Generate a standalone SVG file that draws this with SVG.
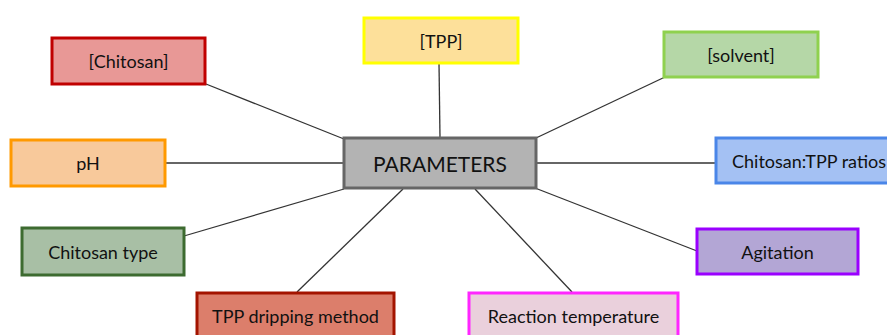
<svg xmlns="http://www.w3.org/2000/svg" width="887" height="335" viewBox="0 0 887 335">
<style>
.n rect{stroke-width:3}
.n text{font-family:Lato,"Open Sans",sans-serif;font-size:18px;fill:#111;text-anchor:middle;dominant-baseline:central}
#connectors line{stroke:#333;stroke-width:1.3}
</style>
<rect width="887" height="335" fill="#fff"/>
<g id="connectors">
<line x1="206" y1="84" x2="344" y2="139"/>
<line x1="165" y1="163" x2="344" y2="163"/>
<line x1="439" y1="63" x2="440" y2="138"/>
<line x1="665" y1="77" x2="536" y2="138"/>
<line x1="536" y1="163" x2="716" y2="163"/>
<line x1="184" y1="236" x2="344" y2="189"/>
<line x1="297" y1="292" x2="403" y2="189"/>
<line x1="572" y1="292" x2="475" y2="189"/>
<line x1="697" y1="251" x2="535" y2="188"/>
</g>
<g id="chitosan" class="n"><rect x="52" y="38" width="153" height="46" fill="#e89896" stroke="#c00000"/><text x="128.5" y="61">[Chitosan]</text></g>
<g id="ph" class="n"><rect x="11" y="140" width="154" height="46" fill="#f8c99b" stroke="#ff9900"/><text x="88" y="163">pH</text></g>
<g id="tpp" class="n"><rect x="364" y="18" width="154" height="45" fill="#fde09a" stroke="#ffff00"/><text x="441" y="41">[TPP]</text></g>
<g id="solvent" class="n"><rect x="664" y="32" width="154" height="45" fill="#b5d7a7" stroke="#8fd14f"/><text x="741" y="55">[solvent]</text></g>
<g id="params" class="n"><rect x="344" y="138" width="192" height="50" fill="#b3b3b3" stroke="#666666"/><text x="440" y="163" style="font-size:21px">PARAMETERS</text></g>
<g id="ratios" class="n"><rect x="716" y="138" width="190" height="45" fill="#a4c1f3" stroke="#4a86e8"/><text x="732" y="161" style="text-anchor:start">Chitosan:TPP ratios</text></g>
<g id="type" class="n"><rect x="22" y="228" width="162" height="47" fill="#a8bfa5" stroke="#3d6b30"/><text x="103" y="252">Chitosan type</text></g>
<g id="agitation" class="n"><rect x="697" y="229" width="161" height="45" fill="#b3a6d5" stroke="#9a00ff"/><text x="777.5" y="252">Agitation</text></g>
<g id="dripping" class="n"><rect x="197" y="293" width="197" height="50" fill="#dc7e6b" stroke="#a31400"/><text x="295.5" y="316">TPP dripping method</text></g>
<g id="temp" class="n"><rect x="469" y="293" width="209" height="50" fill="#ead0dc" stroke="#ff26ff"/><text x="573.5" y="316">Reaction temperature</text></g>
</svg>
